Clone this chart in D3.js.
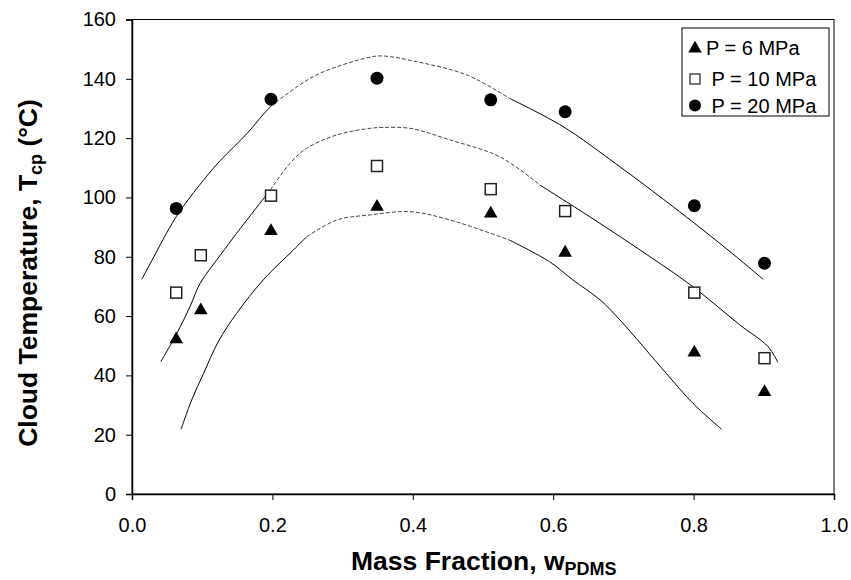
<!DOCTYPE html>
<html>
<head>
<meta charset="utf-8">
<script src="https://cdn.jsdelivr.net/npm/d3@7"></script>
<style>
  body { margin: 0; background: #fff; }
  text { font-family: Arial, "Liberation Sans", sans-serif; }
</style>
</head>
<body>
<svg id="chart" width="851" height="580"></svg>
<script>
// measured points (mass fraction of PDMS vs cloud temperature)
var massFraction = [0.063, 0.098, 0.198, 0.349, 0.511, 0.617, 0.801, 0.901];
var temp6 = [52.5, 62.3, 89.0, 97.2, 94.9, 81.7, 48.0, 34.7];
var temp10 = [67.9, 80.5, 100.6, 110.6, 102.8, 95.4, 67.9, 45.8];
var temp20 = [96.3, null, 133.1, 140.2, 132.9, 128.9, 97.2, 77.8];

var legendLabels = ["P = 6 MPa", " P = 10 MPa", " P = 20 MPa"];
var xTicks = [0, 0.2, 0.4, 0.6, 0.8, 1.0];
var yTicks = [0, 20, 40, 60, 80, 100, 120, 140, 160];

// model curves, [w, T]
var curve6 = [[0.070,21.9],[0.085,31.7],[0.102,40.7],[0.123,51.4],[0.149,60.9],[0.187,72.2],[0.230,82.3],[0.249,86.8],[0.292,92.4],[0.339,94.1],[0.396,95.2],[0.453,92.4],[0.538,85.6],[0.595,78.3],[0.628,72.2],[0.667,65.4],[0.695,58.7],[0.761,40.7],[0.799,30.6],[0.840,21.8]];
var curve10 = [[0.041,44.6],[0.064,54.2],[0.083,63.4],[0.097,71.0],[0.126,80.6],[0.149,87.9],[0.197,102.5],[0.225,111.5],[0.249,116.6],[0.292,121.1],[0.339,123.3],[0.358,123.6],[0.396,123.3],[0.453,119.4],[0.524,113.7],[0.581,104.2],[0.652,93.5],[0.738,80.0],[0.799,69.9],[0.866,57.0],[0.906,49.7],[0.920,44.4]];
var curve20 = [[0.014,72.4],[0.028,78.6],[0.063,93.5],[0.102,105.9],[0.126,112.5],[0.164,121.6],[0.187,128.0],[0.198,130.8],[0.235,137.3],[0.268,141.9],[0.339,147.3],[0.358,147.7],[0.405,145.8],[0.477,141.3],[0.538,133.4],[0.614,123.9],[0.685,112.1],[0.780,95.2],[0.852,81.7],[0.899,72.4]];
// where each curve is drawn dashed
var dash6 = [0.249, 0.538];
var dash10 = [0.197, 0.581];
var dash20 = [0.198, 0.538];

var margin = {top: 19.5, right: 17, bottom: 86, left: 132};
var width = 851 - margin.left - margin.right,
    height = 580 - margin.top - margin.bottom;

var svg = d3.select("#chart");
var g = svg.append("g")
    .attr("transform", "translate(" + margin.left + "," + margin.top + ")");

var x = d3.scaleLinear().domain([0, 1]).range([0, width]);
var y = d3.scaleLinear().domain([0, 160]).range([height, 0]);

// frame
g.append("rect")
    .attr("width", width).attr("height", height)
    .attr("fill", "none").attr("stroke", "#000").attr("stroke-width", 1);

var xAxis = g.append("g")
    .attr("transform", "translate(0," + height + ")")
    .call(d3.axisBottom(x).tickValues(xTicks).tickFormat(d3.format(".1f")).tickSize(6).tickPadding(18));
var yAxis = g.append("g")
    .call(d3.axisLeft(y).tickValues(yTicks).tickSize(6).tickPadding(10));

[xAxis, yAxis].forEach(function(a) {
  a.select(".domain").attr("stroke", "#000").attr("stroke-width", 1.5);
  a.selectAll(".tick line").attr("stroke", "#000");
  a.selectAll(".tick text")
    .attr("fill", "#000")
    .style("font-size", "20px")
    .style("font-family", "Arial, 'Liberation Sans', sans-serif");
});

// curves
var line = d3.line()
    .x(function(d) { return x(d[0]); })
    .y(function(d) { return y(d[1]); })
    .curve(d3.curveCatmullRom.alpha(0.5));

function drawCurve(pts, range) {
  var before = pts.filter(function(d) { return d[0] <= range[0]; });
  var mid = pts.filter(function(d) { return d[0] >= range[0] && d[0] <= range[1]; });
  var after = pts.filter(function(d) { return d[0] >= range[1]; });
  [before, after].forEach(function(p) {
    g.append("path").attr("d", line(p))
      .attr("fill", "none").attr("stroke", "#000").attr("stroke-width", 1);
  });
  g.append("path").attr("d", line(mid))
    .attr("fill", "none").attr("stroke", "#444").attr("stroke-width", 1)
    .attr("stroke-dasharray", "4,2");
}
drawCurve(curve6, dash6);
drawCurve(curve10, dash10);
drawCurve(curve20, dash20);

// markers
var tri = d3.symbol().type(d3.symbolTriangle).size(80);

function pts(vals) {
  return massFraction.map(function(w, i) { return [w, vals[i]]; })
    .filter(function(d) { return d[1] != null; });
}

g.selectAll(".p6").data(pts(temp6)).enter().append("path")
    .attr("class", "p6")
    .attr("d", tri)
    .attr("transform", function(d) { return "translate(" + x(d[0]) + "," + (y(d[1]) + 1) + ")"; })
    .attr("fill", "#000");

g.selectAll(".p10").data(pts(temp10)).enter().append("rect")
    .attr("class", "p10")
    .attr("x", function(d) { return x(d[0]) - 5.5; })
    .attr("y", function(d) { return y(d[1]) - 5.5; })
    .attr("width", 11).attr("height", 11)
    .attr("fill", "#fff").attr("stroke", "#222").attr("stroke-width", 1.5);

g.selectAll(".p20").data(pts(temp20)).enter().append("circle")
    .attr("class", "p20")
    .attr("cx", function(d) { return x(d[0]); })
    .attr("cy", function(d) { return y(d[1]); })
    .attr("r", 6.5)
    .attr("fill", "#000");

// legend
var lg = svg.append("g").attr("transform", "translate(682,28)");
lg.append("rect").attr("width", 147).attr("height", 88)
    .attr("fill", "#fff").attr("stroke", "#000").attr("stroke-width", 1);
var rowY = [19.5, 51, 77.5];
lg.append("path").attr("d", tri).attr("transform", "translate(13," + (rowY[0] + 1) + ")").attr("fill", "#000");
lg.append("rect").attr("x", 8).attr("y", rowY[1] - 5).attr("width", 10).attr("height", 10)
    .attr("fill", "#fff").attr("stroke", "#222").attr("stroke-width", 1.2);
lg.append("circle").attr("cx", 13).attr("cy", rowY[2]).attr("r", 6).attr("fill", "#000");
lg.selectAll(".lt").data(legendLabels).enter().append("text")
    .attr("class", "lt")
    .attr("x", 24)
    .attr("y", function(d, i) { return rowY[i] + 7; })
    .style("font-size", "20px")
    .style("white-space", "pre")
    .text(function(d) { return d; });

// axis titles
var xt = svg.append("text")
    .attr("x", 351).attr("y", 570)
    .style("font-size", "26.5px").style("font-weight", "bold");
xt.append("tspan").text("Mass Fraction, w");
xt.append("tspan").attr("dy", 5).style("font-size", "18px").text("PDMS");

var yt = svg.append("text")
    .attr("transform", "translate(37,273) rotate(-90)")
    .attr("text-anchor", "middle")
    .style("font-size", "26.5px").style("font-weight", "bold");
yt.append("tspan").text("Cloud Temperature, T");
yt.append("tspan").attr("dy", 5).style("font-size", "18px").text("cp");
yt.append("tspan").attr("dy", -5).text(" (\u00B0C)");
</script>
</body>
</html>
